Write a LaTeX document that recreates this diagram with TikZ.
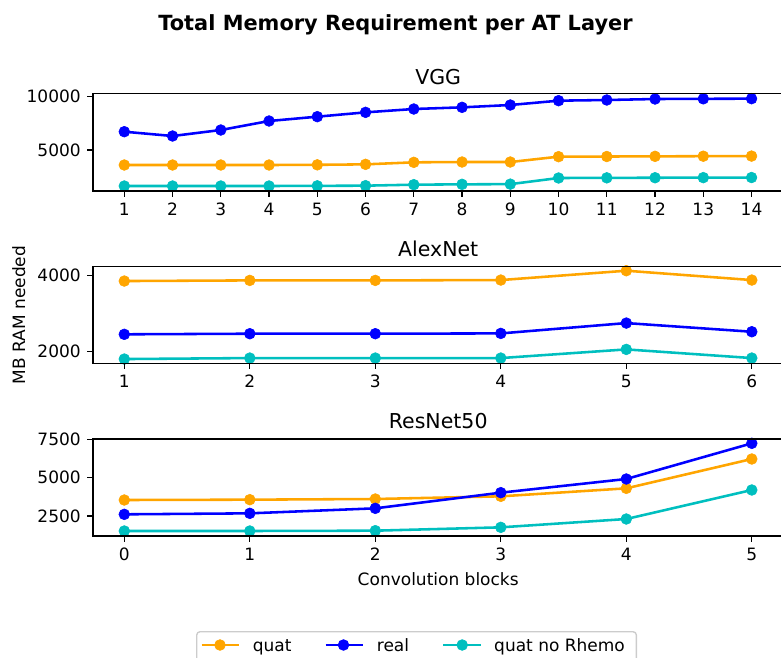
\documentclass[tikz,border=0pt]{standalone}
\usepackage{fontspec}
\setmainfont{DejaVu Sans}

\definecolor{cquat}{HTML}{FFA500}
\definecolor{creal}{HTML}{0000FF}
\definecolor{cnorh}{HTML}{00BFBF}
\definecolor{legedge}{gray}{0.8}

\tikzset{
  spine/.style={line width=1.37pt, black},
  tickmark/.style={line width=1.37pt, black},
  ticklabel/.style={font=\fontsize{17}{20}\selectfont, inner sep=0pt},
  xticklabel/.style={ticklabel, anchor=base, yshift=-24.4pt},
  yticklabel/.style={ticklabel, anchor=base east, xshift=-12pt, yshift=-6.2pt},
  axtitle/.style={font=\fontsize{20.5}{24}\selectfont, inner sep=0pt, anchor=base},
  axlabel/.style={font=\fontsize{17}{20}\selectfont, inner sep=0pt, anchor=base},
  series/.style={line width=2.56pt, line join=round, mark=*, mark size=5.4pt,
    mark options={line width=0.6pt}},
  legframe/.style={draw=legedge, line width=1.37pt, fill=white, fill opacity=0.8,
    rounded corners=3.4pt},
  legtext/.style={font=\fontsize{17}{20}\selectfont, inner sep=0pt, anchor=base west},
}

\begin{document}
\begin{tikzpicture}[x=1pt, y=-1pt]
\clip (0,0) rectangle (781,657);
\useasboundingbox (0,0) rectangle (781,657);

% figure title
\node[font=\bfseries\fontsize{20.9}{24}\selectfont, inner sep=0pt, anchor=base]
  (suptitle) at (395.5,30) {Total Memory Requirement per AT Layer};

% ---------------- VGG ----------------
\node[axtitle] (tvgg) at (438.2,84) {VGG};
\begin{scope}[shift={(76.05,203.33)}, x=48.25pt, y=0.010667pt]
  \draw[series, cquat] plot coordinates {(1,3594) (2,3594) (3,3594) (4,3594) (5,3610) (6,3656)
    (7,3844) (8,3875) (9,3875) (10,4375) (11,4390) (12,4406) (13,4420) (14,4430)};
  \draw[series, creal] plot coordinates {(1,6716) (2,6312) (3,6875) (4,7719) (5,8125) (6,8531)
    (7,8844) (8,9000) (9,9219) (10,9625) (11,9688) (12,9781) (13,9800) (14,9813)};
  \draw[series, cnorh] plot coordinates {(1,1625) (2,1625) (3,1625) (4,1625) (5,1640) (6,1656)
    (7,1750) (8,1781) (9,1800) (10,2375) (11,2390) (12,2400) (13,2410) (14,2420)};
  \draw[spine] (0.35,1156) rectangle (14.65,10315);
  \foreach \i in {1,...,14} {
    \draw[tickmark] (\i,1156) -- ++(0pt,-6pt);
    \node[xticklabel] at (\i,1156) {\i};
  }
  \foreach \v in {5000,10000} {
    \draw[tickmark] (0.35,\v) -- ++(-6pt,0pt);
    \node[yticklabel] at (0.35,\v) {\v};
  }
\end{scope}

% ---------------- AlexNet ----------------
\node[axtitle] (talex) at (438.2,256) {AlexNet};
\begin{scope}[shift={(-1.2,427.7)}, x=125.5pt, y=0.038pt]
  \draw[series, cquat] plot coordinates {(1,3860) (2,3877) (3,3877) (4,3886) (5,4132) (6,3886)};
  \draw[series, creal] plot coordinates {(1,2458) (2,2474) (3,2474) (4,2482) (5,2754) (6,2526)};
  \draw[series, cnorh] plot coordinates {(1,1807) (2,1833) (3,1833) (4,1833) (5,2061) (6,1833)};
  \draw[spine] (0.75,1695) rectangle (6.25,4237);
  \foreach \i in {1,...,6} {
    \draw[tickmark] (\i,1695) -- ++(0pt,-6pt);
    \node[xticklabel] at (\i,1695) {\i};
  }
  \foreach \v in {2000,4000} {
    \draw[tickmark] (0.75,\v) -- ++(-6pt,0pt);
    \node[yticklabel] at (0.75,\v) {\v};
  }
\end{scope}

% ---------------- ResNet50 ----------------
\node[axtitle] (tres) at (438.2,428.3) {ResNet50};
\begin{scope}[shift={(124.3,554.33)}, x=125.5pt, y=0.01533pt]
  \draw[series, cquat] plot coordinates {(0,3543) (1,3565) (2,3609) (3,3783) (4,4304) (5,6217)};
  \draw[series, creal] plot coordinates {(0,2609) (1,2674) (2,3000) (3,4022) (4,4913) (5,7239)};
  \draw[series, cnorh] plot coordinates {(0,1522) (1,1522) (2,1543) (3,1761) (4,2304) (5,4196)};
  \draw[spine] (-0.25,1196) rectangle (5.25,7523);
  \foreach \i in {0,...,5} {
    \draw[tickmark] (\i,1196) -- ++(0pt,-6pt);
    \node[xticklabel] at (\i,1196) {\i};
  }
  \foreach \v in {2500,5000,7500} {
    \draw[tickmark] (-0.25,\v) -- ++(-6pt,0pt);
    \node[yticklabel] at (-0.25,\v) {\v};
  }
\end{scope}

% axis labels
\node[axlabel] (xlab) at (438.2,585) {Convolution blocks};
\node[axlabel, rotate=90] (ylab) at (25,315) {MB RAM needed};

% legend
\node[legframe, minimum width=439.7pt, minimum height=44pt, anchor=north west,
  inner sep=0pt] (legend) at (196,631) {};
\draw[series, cquat, mark indices={2}] plot coordinates {(201.7,645) (220,645) (239.3,645)};
\node[legtext] (lquat) at (252.7,651.7) {quat};
\draw[series, creal, mark indices={2}] plot coordinates {(325.7,645) (343.5,645) (363.3,645)};
\node[legtext] (lreal) at (376.7,651.7) {real};
\draw[series, cnorh, mark indices={2}] plot coordinates {(443.3,645) (462.2,645) (481,645)};
\node[legtext] (lnorh) at (494,651.7) {quat no Rhemo};
\end{tikzpicture}
\end{document}
